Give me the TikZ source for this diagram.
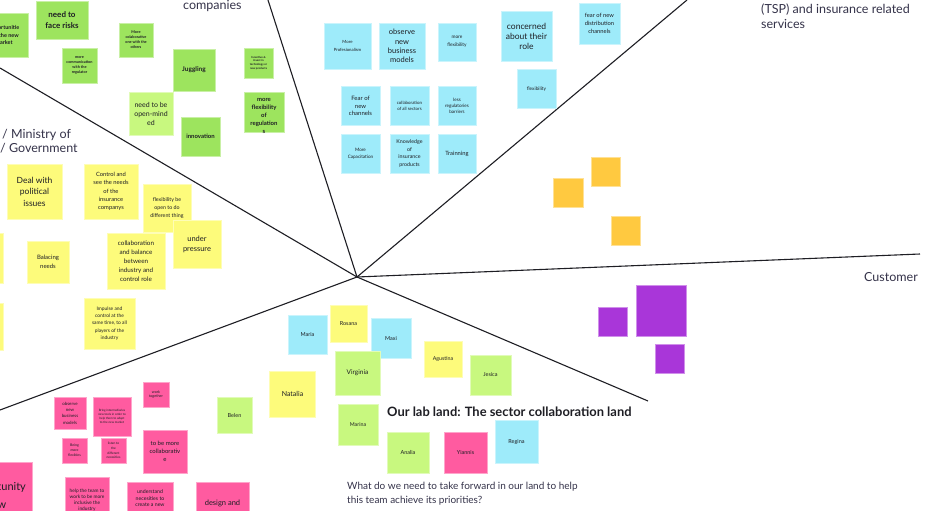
\documentclass[tikz,border=0pt]{standalone}
\usepackage{fontspec}
\setmainfont{Lato}
\definecolor{gA}{HTML}{9DE45E}
\definecolor{gB}{HTML}{C8F87F}
\definecolor{bl}{HTML}{9EEBFA}
\definecolor{ye}{HTML}{FDFB7B}
\definecolor{pk}{HTML}{FF5BA0}
\definecolor{orng}{HTML}{FFC940}
\definecolor{pu}{HTML}{A936D9}
\definecolor{ink}{HTML}{1E1E24}
\definecolor{head}{HTML}{35334A}
\newcommand{\fsz}[2]{\fontsize{#1}{#2}\selectfont}
\tikzset{
  note/.style={rectangle, fill=#1, draw=#1!55!white, line width=0.5pt, inner sep=1pt, align=center, text=ink},
  sq/.style={minimum width=#1pt, minimum height=#1pt},
  wh/.style 2 args={minimum width=#1pt, minimum height=#2pt},
  txt/.style={inner sep=0pt, align=center, text=ink},
  heading/.style={inner sep=0pt, text=head, font=\fsz{12.5}{15}},
  divider/.style={line width=1.1pt, draw=ink}
}
\begin{document}
\begin{tikzpicture}[x=1pt,y=-1pt]
\useasboundingbox (0,0) rectangle (930,511);
\fill[white] (0,0) rectangle (930,511);
\clip (0,0) rectangle (930,511);
% dividing lines
\coordinate (c) at (357,277);
\coordinate (e1) at (268,0);
\coordinate (e2) at (687,0);
\coordinate (e3) at (920,254);
\coordinate (e4) at (648,401);
\coordinate (e5) at (0,410);
\coordinate (e6) at (0,68);
\draw[divider] (c) -- (e1);
\draw[divider] (c) -- (e2);
\draw[divider] (c) -- (e3);
\draw[divider] (c) -- (e4);
\draw[divider] (c) -- (e5);
\draw[divider] (c) -- (e6);
% headings
\node[heading, anchor=base west] (hcomp) at (183,9.5) {companies};
\node[heading, anchor=base west] (hmin1) at (2,139) {/ Ministry of};
\node[heading, anchor=base west] (hmin2) at (0,152.5) {/ Government};
\node[heading, anchor=base west] (htsp1) at (761,13.5) {(TSP) and insurance related};
\node[heading, anchor=base west] (htsp2) at (761,29) {services};
\node[heading, anchor=base east] (hcust) at (918,281.5) {Customer};
% green notes
\node[note=gA, wh={48}{44}, font=\bfseries\fsz{5.5}{7.5}] (gopp) at (4,35) {opportunitie\\s in the new\\market};
\node[note=gA, wh={52}{38}, font=\bfseries\fsz{8}{11}] (grisk) at (62,20) {need to\\face risks};
\node[note=gA, sq=35, font=\bfseries\fsz{3.8}{4.8}] (gcomm) at (79.5,65.5) {more\\communication\\with the\\regulator};
\node[note=gA, sq=34, font=\bfseries\fsz{3.8}{5}] (gcolab) at (136,40) {More\\colaborative\\one with the\\others};
\node[note=gA, sq=42, font=\bfseries\fsz{6.5}{8}] (gjug) at (194,70) {Juggling};
\node[note=gA, wh={29}{30}, font=\bfseries\fsz{2.8}{3.8}] (ginc) at (258.5,63) {Incentive \&\\invest in\\technology or\\new products};
\node[note=gB, wh={44}{43}, font=\fsz{7}{9}] (gopen) at (151,113.5) {need to be\\open-mind\\ed};
\node[note=gA, sq=39, font=\bfseries\fsz{6}{8}] (ginno) at (200.5,136.5) {innovation};
\node[note=gA, sq=40] (gflexreg) at (264,112) {};
\node[txt, font=\bfseries\fsz{6}{8}] (gflexregt) at (264,116) {more\\flexibility\\of\\regulation\\s};
% blue notes
\node[note=bl, wh={47}{46}, font=\fsz{4.3}{7.3}] (bprof) at (347.5,46) {More\\Profesionalism};
\node[note=bl, sq=46, font=\fsz{7.5}{9.3}] (bobs) at (402,46) {observe\\new\\business\\models};
\node[note=bl, sq=38, font=\fsz{4.8}{7.7}] (bmflex) at (457,42) {more\\flexibility};
\node[note=bl, wh={51}{50}, font=\fsz{8.5}{10}] (bconc) at (526.5,36) {concerned\\about their\\role};
\node[note=bl, sq=41, font=\fsz{5.8}{8.3}] (bfear) at (599.5,23.5) {fear of new\\distribution\\channels};
\node[note=bl, sq=38.5, font=\fsz{4.8}{7}] (bflex) at (536.5,89) {flexibility};
\node[note=bl, sq=38.5, font=\fsz{6}{7.5}] (bfearch) at (360.5,106) {Fear of\\new\\channels};
\node[note=bl, sq=38.5, font=\fsz{4.4}{6.5}] (bcoll) at (409.5,106) {collaboration\\of all sectors};
\node[note=bl, sq=38.5, font=\fsz{4.6}{6.3}] (bless) at (457,106) {less\\regulatories\\barriers};
\node[note=bl, sq=38.5, font=\fsz{4.6}{7}] (bcap) at (360.5,153.5) {More\\Capacitation};
\node[note=bl, sq=38.5, font=\fsz{5.3}{7.6}] (bknow) at (409.5,153.5) {Knowledge\\of\\insurance\\products};
\node[note=bl, sq=38.5, font=\fsz{5.8}{7}] (btrain) at (457,153.5) {Trainning};
% orange notes
\node[note=orng, wh={30}{29}] (o1) at (568,192.5) {};
\node[note=orng, sq=29] (o2) at (605.5,171.5) {};
\node[note=orng, sq=29] (o3) at (625.5,230.5) {};
% purple notes
\node[note=pu, sq=29] (p1) at (612.5,321.5) {};
\node[note=pu, wh={50}{51}] (p2) at (661,310.5) {};
\node[note=pu, sq=29] (p3) at (670,358.5) {};
% yellow notes
\node[note=ye, sq=55, font=\fsz{8.5}{11.5}] (ydeal) at (34.5,191.5) {Deal with\\political\\issues};
\node[note=ye, wh={54}{55}, font=\fsz{5.8}{8.4}] (yctrl) at (111,191.5) {Control and\\see the needs\\of the\\insurance\\companys};
\node[note=ye, sq=48, font=\fsz{5.3}{8}] (yflex) at (167,208) {flexibility be\\open to do\\different thing};
\node[note=ye, sq=48, font=\fsz{7.5}{10}] (yunder) at (197,244) {under\\pressure};
\node[note=ye, wh={58}{56}, font=\fsz{6.3}{9}] (ycollab) at (136,261) {collaboration\\and balance\\between\\industry and\\control role};
\node[note=ye, sq=42, font=\fsz{6}{9.3}] (ybal) at (48,262) {Balacing\\needs};
\node[note=ye, wh={46}{50}] (ys1) at (-20,258) {};
\node[note=ye, wh={46}{47}] (ys2) at (-20,326.5) {};
\node[note=ye, sq=51, font=\fsz{4.9}{7.4}] (yimp) at (109.5,323.5) {Impulse and\\control at the\\same time, to all\\players of the\\industry};
% pink notes
\node[note=pk, sq=32, font=\fsz{4.4}{6.3}] (pobs) at (70,413) {observe\\new\\business\\models};
\node[note=pk, wh={38}{39}, font=\fsz{3}{4.2}] (pbring) at (112,416.5) {Bring intermediaries\\new tools in order to\\help them to adapt\\to the new market};
\node[note=pk, wh={26}{25}, font=\fsz{3.7}{4.6}] (pwork) at (156,394.5) {work\\together};
\node[note=pk, sq=25, font=\fsz{3.5}{5}] (pbeing) at (74.5,450.5) {Being\\more\\flexibles};
\node[note=pk, sq=25, font=\fsz{3.2}{4.8}] (plisten) at (113.5,450.5) {listen to\\the\\different\\necesities};
\node[note=pk, wh={44}{43}, font=\fsz{6}{8}] (ptobe) at (165,451.5) {to be more\\collaborativ\\e};
\node[note=pk, wh={72}{68}, font=\fsz{11}{18}] (pbig) at (-4,496) {Opportunity\\new};
\node[note=pk, sq=44] (phelp) at (87,499) {};
\node[txt, anchor=north, font=\fsz{4.8}{6}] (phelpt) at (87,488.5) {help the team to\\work to be more\\inclusive the\\industry};
\node[note=pk, sq=46] (punder) at (150,505) {};
\node[txt, anchor=north, font=\fsz{5.2}{6.6}] (pundert) at (150,489.5) {understand\\necesities to\\create a new};
\node[note=pk, sq=53] (pdesign) at (222.5,508.5) {};
\node[txt, anchor=north, font=\fsz{7.5}{10}] (pdesignt) at (222.5,500) {design and};
% name notes
\node[note=bl, sq=39, font=\fsz{5.5}{7}] (nmaria) at (307.5,334.5) {Maria};
\node[note=ye, sq=37, font=\fsz{5.5}{7}] (nrosana) at (348.5,323.5) {Rosana};
\node[note=bl, sq=40, font=\fsz{5.5}{7}] (nmaxi) at (391,338.5) {Maxi};
\node[note=gB, wh={45}{44}, font=\fsz{6.5}{8}] (nvirg) at (357.5,373) {Virginia};
\node[note=ye, wh={38}{36}, font=\fsz{5.3}{7}] (nagus) at (443,359) {Agustina};
\node[note=gB, wh={41}{40}, font=\fsz{5.5}{7}] (njes) at (490.5,375) {Jesica};
\node[note=ye, sq=46, font=\fsz{7}{9}] (nnat) at (292.5,394) {Natalia};
\node[note=gB, wh={40}{41}, font=\fsz{5.3}{7}] (nmarina) at (358,424.5) {Marina};
\node[note=gB, wh={35}{36}, font=\fsz{5.5}{7}] (nbelen) at (234.5,415) {Belen};
\node[note=gB, wh={42}{41}, font=\fsz{5.5}{7}] (nanalia) at (408,452.5) {Analia};
\node[note=pk, wh={43}{41}, font=\fsz{5.5}{7}] (nyian) at (465.5,452.5) {Yiannis};
\node[note=bl, sq=43, font=\fsz{5.5}{7}] (nregina) at (516.5,441.5) {Regina};
% title and question
\node[inner sep=0pt, anchor=base west, text=ink, font=\bfseries\fsz{12.9}{15}] (title) at (387,416.5) {Our lab land: The sector collaboration land};
\node[inner sep=0pt, anchor=north west, align=left, text=head, font=\fsz{10}{14}] (quest) at (347,481.5) {What do we need to take forward in our land to help\\this team achieve its priorities?};
\end{tikzpicture}
\end{document}
